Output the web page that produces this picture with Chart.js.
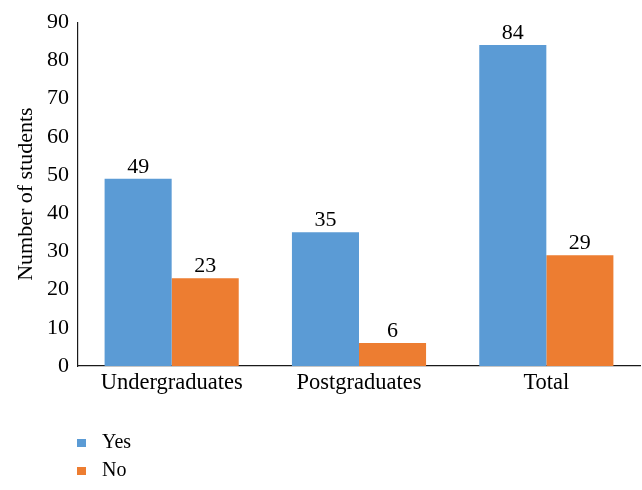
<!DOCTYPE html>
<html>
<head>
<meta charset="utf-8">
<script src="https://cdn.jsdelivr.net/npm/chart.js@4.4.1/dist/chart.umd.min.js"></script>
<style>
  html, body { margin: 0; padding: 0; background: #ffffff; }
  #wrap { width: 642px; height: 490px; position: relative; }
</style>
</head>
<body>
<div id="wrap"><canvas id="c" width="642" height="490"></canvas></div>
<script>
const categories = ["Undergraduates", "Postgraduates", "Total"];
const yesValues = [49, 35, 84];
const noValues = [23, 6, 29];
const seriesNames = ["Yes", "No"];
const yTicks = [0, 10, 20, 30, 40, 50, 60, 70, 80, 90];
const yTitle = "Number of students";

const SERIF = "'Liberation Serif', 'DejaVu Serif', serif";
const COLORS = ["#5B9BD5", "#ED7D31"];

const valueLabels = {
  id: "valueLabels",
  afterDatasetsDraw(chart) {
    const ctx = chart.ctx;
    ctx.save();
    ctx.font = "22px " + SERIF;
    ctx.fillStyle = "#000";
    ctx.textAlign = "center";
    ctx.textBaseline = "bottom";
    chart.data.datasets.forEach((ds, i) => {
      const meta = chart.getDatasetMeta(i);
      meta.data.forEach((bar, j) => {
        ctx.fillText(String(ds.data[j]), bar.x, bar.y - 1);
      });
    });
    ctx.restore();
  }
};

const stackedLegend = {
  id: "stackedLegend",
  afterDraw(chart) {
    const ctx = chart.ctx;
    ctx.save();
    ctx.font = "20px " + SERIF;
    ctx.textBaseline = "middle";
    ctx.textAlign = "left";
    chart.data.datasets.forEach((ds, i) => {
      const cy = 443 + i * 28;
      ctx.fillStyle = ds.backgroundColor;
      ctx.fillRect(77, cy - 4, 9, 8);
      ctx.fillStyle = "#000";
      ctx.fillText(ds.label, 102, cy);
    });
    ctx.restore();
  }
};

new Chart(document.getElementById("c"), {
  type: "bar",
  data: {
    labels: categories,
    datasets: [
      { label: seriesNames[0], data: yesValues, backgroundColor: COLORS[0] },
      { label: seriesNames[1], data: noValues, backgroundColor: COLORS[1] }
    ]
  },
  options: {
    responsive: false,
    animation: false,
    devicePixelRatio: 1,
    layout: { padding: { top: 20, right: 2, bottom: 80, left: 0 } },
    datasets: { bar: { categoryPercentage: 0.716, barPercentage: 1.0 } },
    plugins: {
      legend: { display: false },
      tooltip: { enabled: false }
    },
    scales: {
      x: {
        grid: { display: false, drawTicks: false },
        border: { display: true, color: "#1a1a1a", width: 1.2 },
        ticks: { color: "#000", font: { family: SERIF, size: 22.5 }, padding: 4 },
        afterFit(scale) { scale.height = 44; }
      },
      y: {
        min: 0, max: 90,
        grid: { display: false, drawTicks: false },
        border: { display: true, color: "#1a1a1a", width: 1.2 },
        afterBuildTicks(scale) { scale.ticks = yTicks.map(v => ({ value: v })); },
        ticks: { color: "#000", font: { family: SERIF, size: 22 }, padding: 9 },
        title: { display: true, text: yTitle, color: "#000", font: { family: SERIF, size: 22 }, padding: { top: 13, bottom: 0 } },
        afterFit(scale) { scale.width = 78; }
      }
    }
  },
  plugins: [valueLabels, stackedLegend]
});
</script>
</body>
</html>
